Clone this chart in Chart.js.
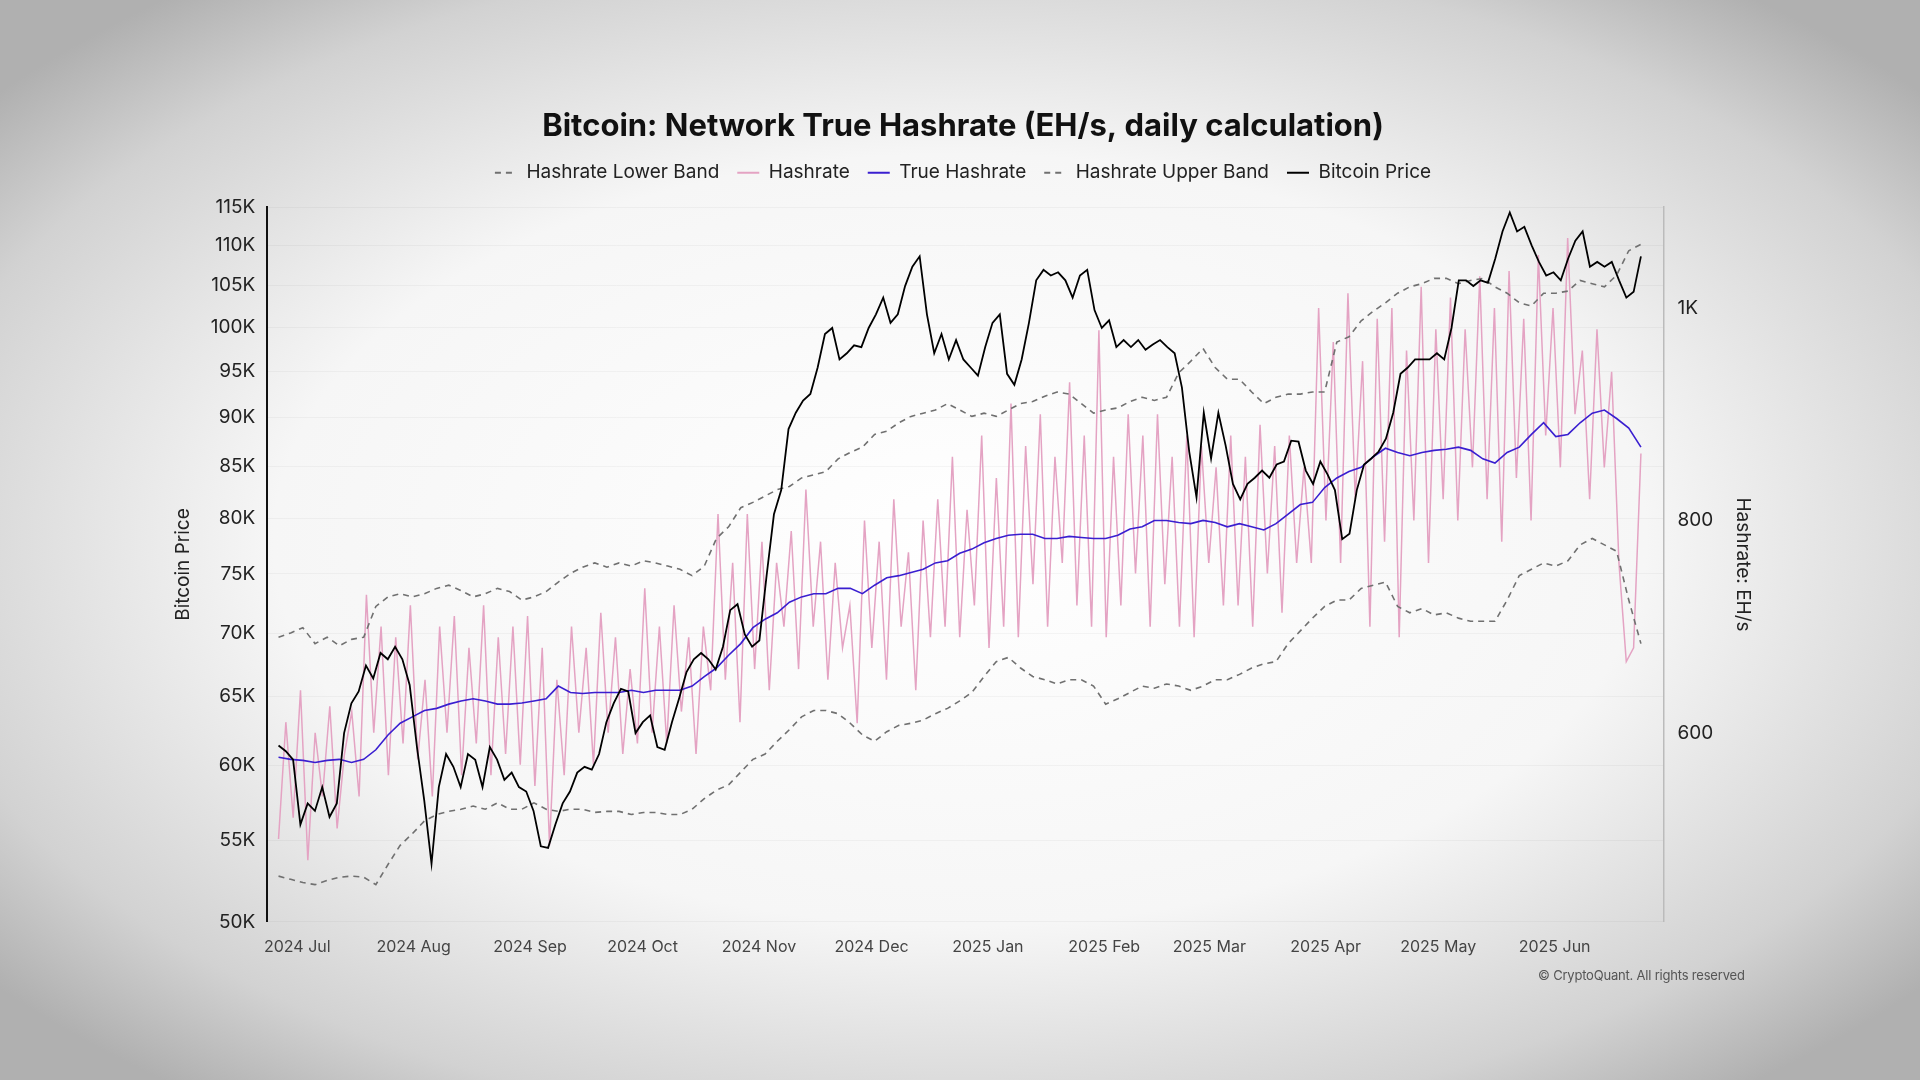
<!DOCTYPE html>
<html>
<head>
<meta charset="utf-8">
<script src="https://cdn.jsdelivr.net/npm/chart.js@4.4.1/dist/chart.umd.min.js"></script>
<style>
  html, body { margin: 0; width: 1920px; height: 1080px; overflow: hidden; }
  body { background: radial-gradient(ellipse 65% 65% at 50% 50%, #ffffff 0%, #f6f6f6 55%, #d2d2d2 85%, #b0b0b0 100%); font-family: Inter, "Noto Sans", sans-serif; }
  #wrap { position: absolute; left: 0; top: 0; width: 1920px; height: 1080px; }
  #copy { position: absolute; left: 1538px; top: 967px; font-size: 13px; color: #555; letter-spacing: -0.2px; }
</style>
</head>
<body>
<div id="wrap"><canvas id="chart"></canvas></div>
<div id="copy">© CryptoQuant. All rights reserved</div>
<script>
// day 0 = 2024-06-23; series spread evenly from firstDay to lastDay
const firstDay = 3;
const lastDay = 366;
const monthDays = [8, 39, 70, 100, 131, 161, 192, 223, 251, 282, 312, 343];
const monthLabels = ["2024 Jul", "2024 Aug", "2024 Sep", "2024 Oct", "2024 Nov", "2024 Dec",
  "2025 Jan", "2025 Feb", "2025 Mar", "2025 Apr", "2025 May", "2025 Jun"];
const priceTicks = [50000, 55000, 60000, 65000, 70000, 75000, 80000, 85000, 90000, 95000, 100000, 105000, 110000, 115000];
const hashTicks = [600, 800, 1000];

// Bitcoin price, thousands USD
const priceK = [61.4, 61.0, 60.4, 56.0, 57.4, 56.9, 58.5, 56.5, 57.4, 62.3, 64.5, 65.4, 67.4, 66.4, 68.4, 67.9, 68.9, 67.9, 65.9, 61.3,
  57.6, 53.5, 58.5, 60.8, 59.9, 58.5, 60.8, 60.4, 58.5, 61.3, 60.4, 59.0, 59.5, 58.5, 58.2, 56.9, 54.6, 54.5, 56.0, 57.4,
  58.2, 59.5, 59.9, 59.7, 60.8, 63.1, 64.5, 65.6, 65.4, 62.3, 63.1, 63.6, 61.3, 61.1, 63.1, 64.9, 66.9, 67.9, 68.4, 67.9,
  67.1, 68.9, 71.9, 72.4, 69.9, 68.9, 69.4, 74.9, 80.4, 82.7, 88.8, 90.5, 91.8, 92.5, 95.4, 99.2, 99.9, 96.3, 97.0, 97.9,
  97.7, 99.9, 101.5, 103.5, 100.5, 101.5, 104.9, 107.3, 108.6, 101.5, 97.0, 99.2, 96.3, 98.5, 96.3, 95.4, 94.5, 97.7, 100.5, 101.5,
  94.7, 93.5, 96.3, 100.5, 105.6, 106.9, 106.2, 106.6, 105.6, 103.5, 106.2, 106.9, 102.0, 99.9, 100.8, 97.7, 98.5, 97.7, 98.5, 97.4,
  98.0, 98.5, 97.7, 97.0, 93.2, 86.5, 82.0, 90.5, 85.8, 90.5, 87.1, 83.3, 81.8, 83.3, 83.9, 84.6, 83.9, 85.2, 85.5, 87.6,
  87.5, 84.6, 83.3, 85.5, 84.2, 82.7, 78.1, 78.6, 82.7, 85.2, 85.8, 86.5, 87.8, 90.5, 94.7, 95.4, 96.3, 96.3, 96.3, 97.0,
  96.3, 99.9, 105.6, 105.6, 104.9, 105.6, 105.3, 108.3, 111.8, 114.3, 111.8, 112.4, 110.0, 107.9, 106.2, 106.6, 105.6, 108.3, 110.6, 111.8,
  107.3, 107.9, 107.3, 107.9, 105.6, 103.5, 104.2, 108.6];

// EH/s
const trueHash = [577, 575, 574, 572, 574, 575, 572, 575, 584, 598, 609, 615, 621, 623, 627, 630, 632, 630, 627, 627,
  628, 630, 632, 644, 638, 637, 638, 638, 638, 640, 638, 640, 640, 640, 644, 653, 661, 673, 684, 699,
  707, 713, 723, 728, 731, 731, 736, 736, 731, 739, 746, 748, 751, 754, 760, 762, 769, 773, 779, 783,
  786, 787, 787, 783, 783, 785, 784, 783, 783, 786, 792, 794, 800, 800, 798, 797, 800, 798, 794, 797,
  794, 791, 797, 806, 815, 817, 831, 840, 846, 850, 860, 868, 864, 861, 864, 866, 867, 869, 866, 858,
  854, 864, 869, 881, 892, 879, 881, 892, 901, 904, 896, 887, 869];

const hashrate = [500, 610, 520, 640, 480, 600, 540, 625, 510, 580, 620, 540, 730, 600, 700, 560, 690, 590, 720, 575,
  650, 540, 700, 600, 710, 560, 680, 590, 720, 560, 690, 580, 700, 570, 710, 550, 680, 494, 650, 560,
  700, 600, 680, 570, 713, 600, 690, 580, 660, 590, 736, 600, 700, 590, 720, 620, 690, 580, 700, 640,
  806, 650, 760, 610, 806, 660, 780, 640, 760, 700, 790, 660, 829, 700, 780, 650, 760, 680, 720, 609,
  800, 680, 780, 650, 820, 700, 770, 640, 800, 690, 820, 700, 860, 690, 810, 720, 880, 680, 840, 700,
  910, 690, 870, 740, 900, 700, 860, 760, 930, 720, 880, 700, 979, 690, 860, 720, 900, 750, 880, 700,
  900, 740, 860, 700, 880, 690, 870, 760, 850, 720, 880, 720, 860, 700, 890, 750, 870, 713, 880, 760,
  850, 760, 1000, 800, 968, 760, 1014, 820, 950, 700, 990, 780, 1000, 690, 960, 800, 1020, 760, 980, 820,
  1010, 800, 980, 850, 1030, 820, 1000, 780, 1035, 840, 990, 800, 1050, 880, 1000, 850, 1066, 900, 960, 820,
  980, 850, 940, 760, 667, 680, 863];

const upperBand = [690, 694, 699, 684, 690, 682, 688, 690, 719, 728, 731, 728, 731, 736, 739, 734, 728, 731, 736, 733,
  725, 728, 733, 742, 750, 756, 760, 756, 760, 757, 762, 760, 757, 754, 748, 757, 783, 794, 812, 817,
  823, 829, 832, 840, 843, 846, 858, 864, 869, 881, 884, 892, 898, 901, 904, 910, 904, 898, 901, 898,
  904, 910, 912, 917, 921, 919, 910, 901, 904, 906, 912, 916, 913, 916, 939, 950, 962, 944, 933, 933,
  921, 910, 916, 919, 919, 921, 921, 968, 973, 988, 997, 1005, 1014, 1020, 1023, 1028, 1028, 1023, 1026, 1028,
  1020, 1014, 1005, 1002, 1014, 1014, 1016, 1026, 1023, 1020, 1031, 1054, 1060];

const lowerBand = [465, 462, 459, 457, 461, 464, 465, 464, 457, 476, 494, 505, 517, 523, 526, 528, 531, 528, 534, 528,
  528, 534, 528, 526, 528, 528, 525, 526, 526, 523, 525, 525, 523, 523, 528, 538, 546, 551, 563, 575,
  580, 592, 603, 615, 621, 621, 618, 609, 598, 592, 601, 607, 609, 612, 618, 623, 630, 638, 653, 667,
  671, 661, 653, 650, 646, 650, 650, 644, 627, 632, 638, 644, 642, 646, 644, 640, 644, 650, 650, 655,
  661, 665, 667, 684, 696, 708, 719, 725, 725, 736, 739, 742, 719, 713, 717, 711, 713, 708, 705, 705,
  705, 725, 748, 754, 760, 757, 762, 777, 783, 777, 771, 725, 684];

function spread(values, scale) {
  const n = values.length;
  return values.map((v, i) => ({ x: firstDay + (lastDay - firstDay) * i / (n - 1), y: v * scale }));
}

const grey = "#707070";

// extra room under the legend
const legendGap = {
  id: "legendGap",
  beforeInit(chart) {
    const fit = chart.legend.fit;
    chart.legend.fit = function () {
      fit.bind(chart.legend)();
      this.height += 15;
    };
  }
};

new Chart(document.getElementById("chart"), {
  type: "line",
  plugins: [legendGap],
  data: {
    datasets: [
      { label: "Hashrate Lower Band", data: spread(lowerBand, 1), yAxisID: "yHash", borderColor: grey, borderWidth: 1.6, borderDash: [6, 5], order: 3 },
      { label: "Hashrate", data: spread(hashrate, 1), yAxisID: "yHash", borderColor: "#e4a3c3", borderWidth: 1.5, order: 4 },
      { label: "True Hashrate", data: spread(trueHash, 1), yAxisID: "yHash", borderColor: "#3a1fd0", borderWidth: 1.6, order: 2 },
      { label: "Hashrate Upper Band", data: spread(upperBand, 1), yAxisID: "yHash", borderColor: grey, borderWidth: 1.6, borderDash: [6, 5], order: 3 },
      { label: "Bitcoin Price", data: spread(priceK, 1000), yAxisID: "yPrice", borderColor: "#000000", borderWidth: 1.8, order: 1 }
    ]
  },
  options: {
    responsive: true,
    maintainAspectRatio: false,
    animation: false,
    elements: { point: { radius: 0 }, line: { tension: 0 } },
    layout: { padding: { left: 168, right: 162, top: 108, bottom: 115 } },
    plugins: {
      title: {
        display: true,
        text: "Bitcoin: Network True Hashrate (EH/s, daily calculation)",
        color: "#111",
        font: { family: "Inter", size: 31, weight: "bold" },
        padding: { top: 0, bottom: 0 }
      },
      legend: {
        labels: {
          usePointStyle: true,
          pointStyle: "line",
          pointStyleWidth: 22,
          color: "#222",
          font: { family: "Inter", size: 19 },
          padding: 18,
          generateLabels: (chart) => chart.data.datasets.map((ds, i) => ({
            text: ds.label,
            datasetIndex: i,
            fillStyle: ds.borderColor,
            strokeStyle: ds.borderColor,
            fontColor: "#222",
            lineWidth: 2,
            lineDash: ds.borderDash || [],
            pointStyle: "line",
            hidden: false
          }))
        }
      },
      tooltip: { enabled: false }
    },
    scales: {
      x: {
        type: "linear",
        min: 0,
        max: 372,
        grid: { display: false },
        border: { display: false },
        afterBuildTicks: (axis) => { axis.ticks = monthDays.map((v) => ({ value: v })); },
        ticks: {
          color: "#444",
          padding: 8,
          font: { family: "Inter", size: 16 },
          maxRotation: 0,
          autoSkip: false,
          callback: (v) => monthLabels[monthDays.indexOf(v)]
        }
      },
      yPrice: {
        type: "logarithmic",
        position: "left",
        min: 50000,
        max: 115000,
        afterBuildTicks: (axis) => { axis.ticks = priceTicks.map((v) => ({ value: v })); },
        grid: { color: "rgba(0,0,0,0.035)", drawTicks: false },
        border: { display: true, color: "#111", width: 2 },
        title: { display: true, text: "Bitcoin Price", color: "#222", font: { family: "Inter", size: 19 } },
        ticks: {
          color: "#222",
          padding: 12,
          font: { family: "Inter", size: 19 },
          callback: (v) => v / 1000 + "K"
        }
      },
      yHash: {
        type: "linear",
        position: "right",
        min: 422,
        max: 1095,
        afterBuildTicks: (axis) => { axis.ticks = hashTicks.map((v) => ({ value: v })); },
        grid: { display: false, drawTicks: false },
        border: { display: true, color: "#bbb", width: 1.5 },
        title: { display: true, text: "Hashrate: EH/s", color: "#222", font: { family: "Inter", size: 19 } },
        ticks: {
          color: "#222",
          padding: 14,
          font: { family: "Inter", size: 19 },
          callback: (v) => (v >= 1000 ? v / 1000 + "K" : v)
        }
      }
    }
  }
});
</script>
</body>
</html>
